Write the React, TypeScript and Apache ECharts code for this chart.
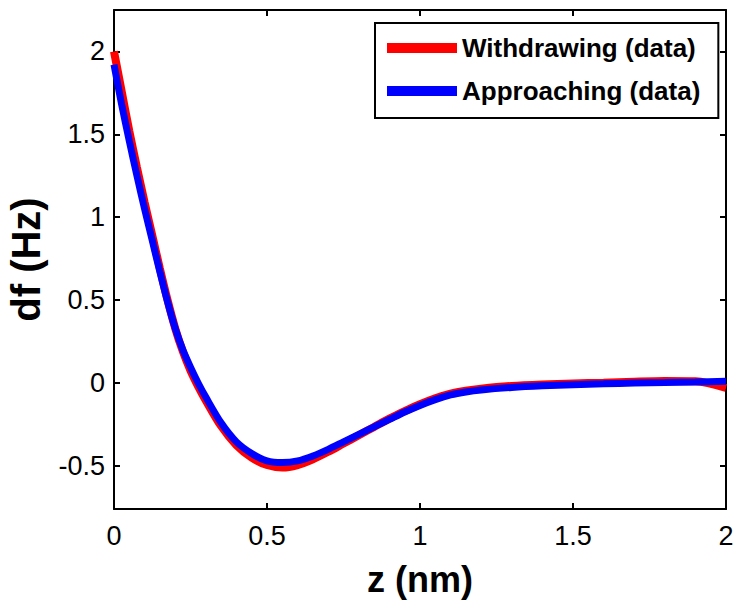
import React, { useEffect, useRef } from "react";
import * as echarts from "echarts";

const zValues = [0, 0.025, 0.05, 0.075, 0.1, 0.125, 0.15, 0.175, 0.2, 0.225, 0.25, 0.275, 0.3, 0.35, 0.4, 0.45, 0.5, 0.55, 0.6, 0.65, 0.7, 0.75, 0.8, 0.85, 0.9, 0.95, 1.0, 1.05, 1.1, 1.15, 1.2, 1.3, 1.4, 1.5, 1.6, 1.7, 1.8, 1.9, 2.0];
const withdrawing = [2.0, 1.76, 1.52, 1.3, 1.09, 0.89, 0.69, 0.5, 0.33, 0.19, 0.075, -0.02, -0.105, -0.26, -0.375, -0.45, -0.495, -0.51, -0.495, -0.46, -0.415, -0.365, -0.315, -0.265, -0.215, -0.17, -0.128, -0.092, -0.064, -0.046, -0.034, -0.018, -0.009, -0.003, 0.002, 0.008, 0.012, 0.01, -0.03];
const approaching = [1.92, 1.68, 1.46, 1.25, 1.05, 0.86, 0.67, 0.49, 0.33, 0.2, 0.095, 0.0, -0.085, -0.24, -0.355, -0.425, -0.47, -0.48, -0.47, -0.44, -0.4, -0.355, -0.31, -0.265, -0.22, -0.175, -0.135, -0.1, -0.072, -0.054, -0.042, -0.027, -0.017, -0.01, -0.005, 0.0, 0.003, 0.006, 0.01];
const yTicks = [-0.5, 0, 0.5, 1, 1.5, 2];
const xTicks = [0, 0.5, 1, 1.5, 2];
const seriesNames = ["Withdrawing (data)", "Approaching (data)"];

const FONT = '"Liberation Sans", Arial, Helvetica, sans-serif';

export default function App() {
  const ref = useRef<HTMLDivElement>(null);
  useEffect(() => {
    if (!ref.current) return;
    const chart = echarts.init(ref.current, null, { renderer: "svg" });
    const pair = (ys: number[]) => zValues.map((z, i) => [z, ys[i]]);
    const axisLine = { show: true, onZero: false, lineStyle: { color: "#000", width: 2 } };
    const tick = (vals: number[]) => ({ inside: true, length: 6, lineStyle: { color: "#000", width: 2 }, customValues: vals });
    chart.setOption({
      animation: false,
      backgroundColor: "#fff",
      grid: { left: 114, right: 9, top: 10, bottom: 94, containLabel: false, outerBoundsMode: "none" },
      legend: {
        orient: "vertical",
        left: 375,
        top: 23,
        padding: [12, 18, 14, 12],
        itemGap: 17,
        itemWidth: 70,
        itemHeight: 10,
        icon: "rect",
        borderColor: "#000",
        borderWidth: 2,
        backgroundColor: "#fff",
        textStyle: { fontFamily: FONT, fontSize: 26, fontWeight: "bold", color: "#000" },
        data: seriesNames,
      },
      xAxis: [
        {
          type: "value",
          min: 0,
          max: 2,
          interval: 0.5,
          name: "z (nm)",
          nameLocation: "middle",
          nameGap: 52,
          nameTextStyle: { fontFamily: FONT, fontSize: 36, fontWeight: "bold", color: "#000" },
          axisLine,
          axisTick: tick(xTicks),
          axisLabel: { fontFamily: FONT, fontSize: 27, color: "#000", margin: 13, customValues: xTicks },
          splitLine: { show: false },
        },
        {
          type: "value",
          position: "top",
          min: 0,
          max: 2,
          interval: 0.5,
          axisLine,
          axisTick: tick(xTicks),
          axisLabel: { show: false },
          splitLine: { show: false },
        },
      ],
      yAxis: [
        {
          type: "value",
          min: -0.76,
          max: 2.25,
          name: "df (Hz)",
          nameLocation: "middle",
          nameGap: 68,
          nameTextStyle: { fontFamily: FONT, fontSize: 40, fontWeight: "bold", color: "#000" },
          axisLine,
          axisTick: tick(yTicks),
          axisLabel: { fontFamily: FONT, fontSize: 27, color: "#000", margin: 9, customValues: yTicks },
          splitLine: { show: false },
        },
        {
          type: "value",
          position: "right",
          min: -0.76,
          max: 2.25,
          axisLine,
          axisTick: tick(yTicks),
          axisLabel: { show: false },
          splitLine: { show: false },
        },
      ],
      series: [
        {
          name: seriesNames[0],
          type: "line",
          xAxisIndex: 0,
          yAxisIndex: 0,
          data: pair(withdrawing),
          smooth: 0.3,
          showSymbol: false,
          symbol: "none",
          color: "#ff0000",
          lineStyle: { color: "#ff0000", width: 8 },
        },
        {
          name: seriesNames[1],
          type: "line",
          xAxisIndex: 0,
          yAxisIndex: 0,
          data: pair(approaching),
          smooth: 0.3,
          showSymbol: false,
          symbol: "none",
          color: "#0000ff",
          lineStyle: { color: "#0000ff", width: 7 },
        },
      ],
    });
    return () => chart.dispose();
  }, []);
  return <div ref={ref} style={{ width: 735, height: 603, position: "absolute", left: 0, top: 0 }} />;
}
